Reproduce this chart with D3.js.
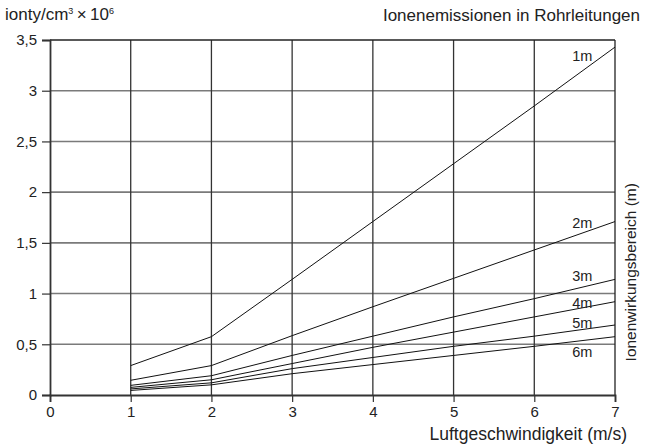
<!DOCTYPE html>
<html>
<head>
<meta charset="utf-8">
<script src="https://cdn.jsdelivr.net/npm/d3@7"></script>
<style>
  body { margin: 0; background: #fff; }
  text { font-family: "Liberation Sans", Arial, sans-serif; fill: #222; }
</style>
</head>
<body>
<div id="chart"></div>
<script>
const speeds = [1, 2, 3, 4, 5, 6, 7];
const seriesNames = ['1m', '2m', '3m', '4m', '5m', '6m'];
const seriesValues = [
    [0.29, 0.575, 1.14, 1.71, 2.28, 2.85, 3.43],
    [0.145, 0.29, 0.585, 0.87, 1.15, 1.43, 1.71],
    [0.095, 0.19, 0.39, 0.58, 0.77, 0.95, 1.14],
    [0.075, 0.15, 0.31, 0.47, 0.62, 0.77, 0.92],
    [0.06, 0.12, 0.26, 0.37, 0.48, 0.58, 0.69],
    [0.045, 0.10, 0.21, 0.30, 0.39, 0.48, 0.575]
];
const xTicks = [0, 1, 2, 3, 4, 5, 6, 7];
const yTicks = [0, 0.5, 1, 1.5, 2, 2.5, 3, 3.5];

const width = 654, height = 446;
const margin = { top: 40, right: 39, bottom: 51, left: 50 };
const innerW = width - margin.left - margin.right;
const innerH = height - margin.top - margin.bottom;

const svg = d3.select('#chart')
    .append('svg')
    .attr('width', width)
    .attr('height', height);

const g = svg.append('g')
    .attr('transform', `translate(${margin.left},${margin.top})`);

const x = d3.scaleLinear().domain([0, 7]).range([0, innerW]);
const y = d3.scaleLinear().domain([0, 3.5]).range([innerH, 0]);
const fmt = v => String(v).replace('.', ',');

// horizontal grid
g.selectAll('.hgrid')
    .data(yTicks.filter(v => v > 0 && v < 3.5))
    .join('line')
    .attr('x1', 0).attr('x2', innerW)
    .attr('y1', d => y(d)).attr('y2', d => y(d))
    .attr('stroke', '#7a7a7a')
    .attr('stroke-width', 1.6);

// vertical grid
g.selectAll('.vgrid')
    .data(xTicks.filter(v => v > 0 && v < 7))
    .join('line')
    .attr('x1', d => x(d)).attr('x2', d => x(d))
    .attr('y1', 0).attr('y2', innerH)
    .attr('stroke', '#333')
    .attr('stroke-width', 1.3);

// frame
g.append('line').attr('x1', 0).attr('x2', innerW).attr('y1', 0).attr('y2', 0)
    .attr('stroke', '#222').attr('stroke-width', 1.3);
g.append('line').attr('x1', innerW).attr('x2', innerW).attr('y1', 0).attr('y2', innerH)
    .attr('stroke', '#222').attr('stroke-width', 1.3);

// axes
const xAxis = g.append('g')
    .attr('transform', `translate(0,${innerH})`)
    .call(d3.axisBottom(x).tickValues(xTicks).tickSize(7).tickPadding(4).tickFormat(fmt));
const yAxis = g.append('g')
    .call(d3.axisLeft(y).tickValues(yTicks).tickSize(8).tickPadding(5).tickFormat(fmt));

[xAxis, yAxis].forEach(ax => {
    ax.select('.domain').attr('stroke', '#333').attr('stroke-width', 1.8);
    ax.selectAll('.tick line').attr('stroke', '#333').attr('stroke-width', 1.2);
    ax.selectAll('.tick text')
        .style('font-family', '"Liberation Sans", Arial, sans-serif')
        .style('font-size', '15px')
        .attr('fill', '#222');
});

// series lines
const line = d3.line()
    .x((d, i) => x(speeds[i]))
    .y(d => y(d));

g.selectAll('.series')
    .data(seriesValues)
    .join('path')
    .attr('d', line)
    .attr('fill', 'none')
    .attr('stroke', '#111')
    .attr('stroke-width', 1);

// series labels
const labelDy = [14, 6.5, 1.5, 6, 3, 20];
g.selectAll('.slabel')
    .data(seriesNames)
    .join('text')
    .attr('x', x(6.72))
    .attr('y', (d, i) => y(seriesValues[i][6]) + labelDy[i])
    .attr('text-anchor', 'end')
    .style('font-size', '14.5px')
    .text(d => d);

// titles
svg.append('text')
    .attr('x', 5).attr('y', 20)
    .style('font-size', '17px')
    .html('ionty/cm<tspan font-size="9" dy="-6">3</tspan><tspan dy="6">\u2009×\u200910</tspan><tspan font-size="9" dy="-6">6</tspan>');

svg.append('text')
    .attr('x', 640).attr('y', 21)
    .attr('text-anchor', 'end')
    .style('font-size', '17px')
    .text('Ionenemissionen in Rohrleitungen');

svg.append('text')
    .attr('x', 627).attr('y', 440)
    .attr('text-anchor', 'end')
    .style('font-size', '17.5px')
    .text('Luftgeschwindigkeit (m/s)');

svg.append('text')
    .attr('transform', `translate(636,${margin.top + y(1.21)}) rotate(-90)`)
    .attr('text-anchor', 'middle')
    .style('font-size', '15.5px')
    .text('Ionenwirkungsbereich (m)');
</script>
</body>
</html>
